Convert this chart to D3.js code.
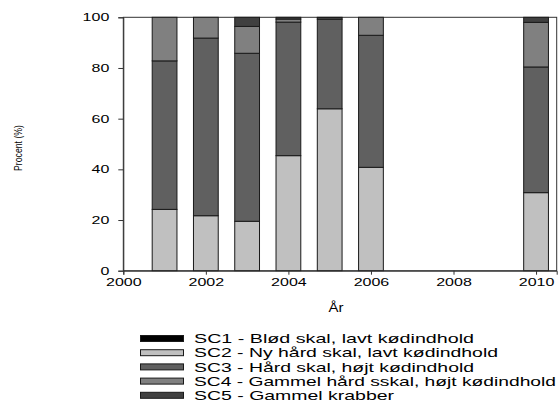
<!DOCTYPE html>
<html><head><meta charset="utf-8">
<script src="https://cdn.jsdelivr.net/npm/d3@7"></script>
<style>body{margin:0;background:#fff}svg{display:block}text{font-family:"Liberation Sans",Arial,sans-serif}</style>
</head><body><svg id="c" width="559" height="403"></svg>
<script>
const years = [2001, 2002, 2003, 2004, 2005, 2006, 2010];
const sc1 = [0, 0, 0, 0, 0, 0, 0];
const sc2 = [24.2, 21.7, 19.5, 45.4, 63.9, 40.8, 30.8];
const sc3 = [58.6, 70.1, 66.3, 52.7, 35.3, 52.1, 49.6];
const sc4 = [17.2, 8.2, 10.6, 1.2, 0.6, 7.1, 17.6];
const sc5 = [0, 0, 3.6, 0.7, 0.2, 0, 2.0];
const seriesNames = ["SC1 - Blød skal, lavt  kødindhold","SC2 - Ny hård skal, lavt kødindhold","SC3 - Hård skal, højt kødindhold","SC4 - Gammel hård sskal, højt kødindhold","SC5 - Gammel krabber"];
const xTicks = [2000, 2002, 2004, 2006, 2008, 2010];
const yTicks = [0, 20, 40, 60, 80, 100];
const colors = ["#000000","#c0c0c0","#606060","#808080","#404040"];
const legendWidths = [280, 304, 280, 362, 200];

const svg = d3.select("#c");
const x = d3.scaleLinear().domain([2000, 2010.5]).range([123.3, 556.7]);
const y = d3.scaleLinear().domain([0, 100]).range([270.7, 17.3]);
const barW = x(2000.6) - x(2000);

const rows = years.map((yr, i) => ({year: yr, sc1: sc1[i], sc2: sc2[i], sc3: sc3[i], sc4: sc4[i], sc5: sc5[i]}));
const keys = ["sc1","sc2","sc3","sc4","sc5"];
const stack = d3.stack().keys(keys)(rows);

svg.append("rect").attr("x", x(2000)).attr("y", y(100)).attr("width", x(2010.5)-x(2000)).attr("height", y(0)-y(100))
  .attr("fill","none").attr("stroke","#333").attr("stroke-width",1);

stack.forEach((layer, k) => {
  svg.append("g").selectAll("rect").data(layer.filter(d => d[1] - d[0] > 0)).join("rect")
    .attr("x", d => x(d.data.year) - barW/2)
    .attr("y", d => y(d[1]))
    .attr("width", barW)
    .attr("height", d => y(d[0]) - y(d[1]))
    .attr("fill", colors[k])
    .attr("stroke", "#1a1a1a").attr("stroke-width", 1);
});

const xa = svg.append("g").attr("transform", `translate(0,${y(0)})`)
  .call(d3.axisBottom(x).tickValues(xTicks).tickFormat(d3.format("d")).tickSize(4).tickPadding(4));
const ya = svg.append("g").attr("transform", `translate(${x(2000)},0)`)
  .call(d3.axisLeft(y).tickValues(yTicks).tickSize(5).tickPadding(9));
[xa, ya].forEach(a => {
  a.select(".domain").attr("stroke","#333");
  a.selectAll(".tick line").attr("stroke","#333");
  a.selectAll("text").attr("font-size", 11).attr("fill","#000").attr("font-family",'"Liberation Sans",Arial,sans-serif')
    .attr("lengthAdjust","spacingAndGlyphs").attr("textLength", function(){ return this.textContent.length * 8.9; });
});

svg.append("text").attr("x", 336).attr("y", 312).attr("text-anchor","middle").attr("font-size", 12)
  .attr("textLength", 15).attr("lengthAdjust","spacingAndGlyphs").text("År");
svg.append("text").attr("transform","translate(21.5,148) rotate(-90)").attr("text-anchor","middle")
  .attr("font-size", 11).attr("textLength", 46).attr("lengthAdjust","spacingAndGlyphs").text("Procent (%)");

const lg = svg.append("g");
seriesNames.forEach((n, i) => {
  const cy = 338.5 + i * 14.2;
  lg.append("rect").attr("x", 140.5).attr("y", cy - 3).attr("width", 43).attr("height", 6)
    .attr("fill", colors[i]).attr("stroke", "#1a1a1a").attr("stroke-width", 1);
  lg.append("text").attr("x", 194).attr("y", cy + 4.7).attr("font-size", 13.2)
    .attr("textLength", legendWidths[i]).attr("lengthAdjust","spacingAndGlyphs").text(n);
});
</script></body></html>
